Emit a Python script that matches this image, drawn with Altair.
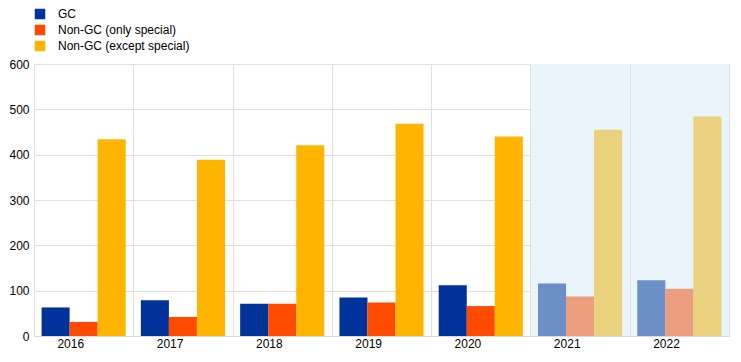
import altair as alt
import pandas as pd

years = ["2016", "2017", "2018", "2019", "2020", "2021", "2022"]
series = ["GC", "Non-GC (only special)", "Non-GC (except special)"]
gc = [63, 79, 71, 85, 112, 116, 123]
only_special = [31, 42, 71, 74, 66, 87, 104]
except_special = [434, 389, 421, 468, 440, 455, 484]
projected_years = ["2021", "2022"]
colors = ["#003299", "#ff4b00", "#ffb400"]
faded_colors = ["#6c8fc7", "#eb9d7e", "#e9d17d"]

rows = []
for i, y in enumerate(years):
    for s, vals in zip(series, [gc, only_special, except_special]):
        key = s + " (proj)" if y in projected_years else s
        rows.append({"year": y, "series": s, "key": key, "value": vals[i]})
df = pd.DataFrame(rows)
bg = pd.DataFrame({"year": projected_years})

W, H = 695, 272

xscale = alt.Scale(domain=years, paddingInner=0, paddingOuter=0)

shade = alt.Chart(bg).mark_rect(color="#e9f5fb").encode(
    x=alt.X("year:N", scale=xscale),
    y=alt.value(0),
    y2=alt.value(H),
)

key_domain = series + [s + " (proj)" for s in series]

bars = alt.Chart(df).mark_bar().encode(
    x=alt.X("year:N", scale=xscale, sort=years,
            axis=alt.Axis(title=None, labelAngle=0, tickBand="extent", ticks=False,
                          grid=True, gridColor="#e0e0e0", domainColor="#d9d9d9",
                          labelPadding=7)),
    xOffset=alt.XOffset("series:N", sort=series,
                        scale=alt.Scale(paddingInner=0, paddingOuter=0.27)),
    y=alt.Y("value:Q", scale=alt.Scale(domain=[0, 600], nice=False),
            axis=alt.Axis(title=None, values=[0, 100, 200, 300, 400, 500, 600],
                          ticks=False, domain=False, gridColor="#e0e0e0",
                          labelPadding=5)),
    color=alt.Color("key:N",
                    scale=alt.Scale(domain=key_domain, range=colors + faded_colors),
                    legend=alt.Legend(title=None, orient="none", legendX=0, legendY=-56,
                                      values=series,
                                      symbolType="square", symbolSize=110,
                                      symbolStrokeWidth=0, labelOffset=12,
                                      rowPadding=4, labelFontSize=12,
                                      labelFont="Liberation Sans", labelColor="#000")),
)

chart = (shade + bars).properties(
    width=W, height=H,
    autosize=alt.AutoSizeParams(type="none"),
    padding={"left": 26, "top": 56, "right": 4, "bottom": 18},
).configure_axis(
    labelFont="Liberation Sans", labelFontSize=12, labelColor="#000",
).configure_view(stroke=None)

chart.save("out.html", embed_options={"renderer": "svg", "actions": False})
